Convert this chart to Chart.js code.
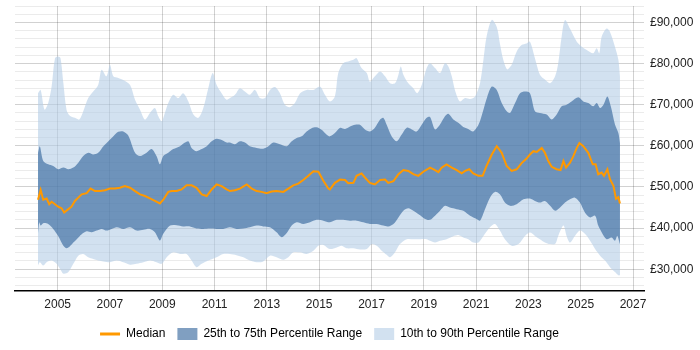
<!DOCTYPE html>
<html>
<head>
<meta charset="utf-8">
<script src="https://cdn.jsdelivr.net/npm/chart.js@4"></script>
<style>
  html, body { margin: 0; padding: 0; background: #fff; }
  #wrap { width: 700px; height: 350px; }
</style>
</head>
<body>
<div id="wrap"><canvas id="chartCanvas"></canvas></div>
<script>
// values in £ thousands, [decimal year, value]
const median = [
  [2004.25,46.9],[2004.35,49.3],[2004.45,46.9],[2004.58,47.2],[2004.68,45.8],[2004.77,46.4],[2004.90,45.8],[2005.02,45.2],[2005.15,44.8],[2005.25,43.8],[2005.41,44.6],[2005.53,45.2],[2005.66,46.6],[2005.79,47.4],[2005.92,48.2],[2006.11,48.5],[2006.26,49.6],[2006.43,49.0],[2006.62,49.0],[2006.81,49.2],[2007.00,49.6],[2007.19,49.6],[2007.38,49.8],[2007.57,50.2],[2007.77,49.8],
  [2007.96,49.0],[2008.15,48.2],[2008.34,47.8],[2008.53,47.2],[2008.72,46.6],[2008.91,46.0],[2009.04,46.9],[2009.23,48.8],[2009.36,49.0],[2009.55,49.0],[2009.74,49.4],[2009.93,50.4],[2010.12,50.4],[2010.31,49.8],[2010.51,48.2],[2010.70,47.8],[2010.89,49.4],[2011.08,50.6],[2011.27,50.2],[2011.46,49.4],[2011.59,49.0],
  [2011.78,49.2],[2011.97,49.6],[2012.23,50.6],[2012.42,49.6],[2012.61,49.0],[2012.80,48.8],[2012.99,48.5],[2013.18,48.9],[2013.37,49.0],[2013.63,48.8],[2013.82,49.6],[2014.01,50.4],[2014.20,50.8],[2014.39,51.7],[2014.585,52.7],[2014.78,53.8],[2014.97,53.7],[2015.16,51.5],[2015.35,49.6],
  [2015.41,49.4],[2015.60,51.0],[2015.80,51.8],[2015.99,51.7],[2016.11,50.9],[2016.31,51.0],[2016.43,52.7],[2016.62,53.3],[2016.75,52.3],[2016.94,51.0],[2017.13,50.6],[2017.33,51.7],[2017.52,51.8],[2017.64,51.0],[2017.84,51.4],[2018.03,53.1],[2018.22,54.1],[2018.41,53.9],[2018.60,53.1],[2018.79,52.7],[2018.98,53.7],[2019.24,54.7],
  [2019.43,54.1],[2019.56,53.6],[2019.68,54.7],[2019.87,55.5],[2020.07,54.7],[2020.26,54.1],[2020.45,53.3],[2020.58,53.9],[2020.74,54.3],[2020.89,53.3],[2021.09,52.7],[2021.25,52.7],[2021.40,55.1],[2021.60,57.9],[2021.79,59.9],[2021.98,58.3],[2022.17,55.1],[2022.36,53.9],[2022.55,54.3],[2022.74,55.8],[2022.93,56.9],[2023.06,57.9],
  [2023.19,58.7],[2023.32,58.5],[2023.51,59.5],[2023.63,58.3],[2023.76,56.3],[2023.89,54.9],[2024.08,54.3],[2024.23,54.1],[2024.34,56.3],[2024.44,54.7],[2024.59,55.9],[2024.72,57.5],[2024.85,59.5],[2024.95,60.7],[2025.10,59.9],[2025.29,58.3],[2025.46,55.5],[2025.57,55.5],[2025.67,53.1],[2025.80,53.5],[2025.89,52.7],[2026.02,54.3],[2026.12,51.9],[2026.25,50.3],[2026.35,47.1],[2026.44,47.5],[2026.50,46.0]
];

const p75 = [
  [2004.25,58.3],[2004.32,59.9],[2004.45,56.3],[2004.64,55.5],[2004.83,55.1],[2005.02,54.3],[2005.22,54.7],[2005.41,54.3],[2005.60,54.7],[2005.79,55.9],[2005.98,57.5],[2006.17,58.3],[2006.36,57.9],[2006.55,58.3],[2006.75,59.9],[2006.94,61.1],[2007.13,62.3],[2007.32,63.4],[2007.51,63.5],[2007.70,62.5],
  [2007.96,58.3],[2008.15,57.5],[2008.40,58.3],[2008.59,59.2],[2008.78,57.5],[2008.91,55.5],[2009.04,57.5],[2009.23,58.3],[2009.42,59.2],[2009.68,59.9],[2009.87,60.8],[2010.00,61.1],[2010.12,59.5],[2010.31,58.7],[2010.51,59.2],[2010.70,59.9],[2010.89,61.1],[2011.08,61.7],[2011.27,61.4],[2011.46,60.8],
  [2011.59,60.8],[2011.78,60.4],[2011.97,61.1],[2012.16,60.8],[2012.35,59.9],[2012.61,59.5],[2012.86,59.3],[2013.06,59.9],[2013.25,60.8],[2013.50,60.4],[2013.76,59.9],[2013.95,61.1],[2014.14,61.9],[2014.33,62.3],[2014.52,63.5],[2014.71,64.3],[2014.90,64.5],[2015.09,63.9],[2015.29,62.7],[2015.41,62.3],
  [2015.60,63.1],[2015.80,64.4],[2015.99,64.1],[2016.18,64.7],[2016.37,65.1],[2016.56,65.1],[2016.75,64.0],[2016.94,63.5],[2017.13,64.4],[2017.33,66.4],[2017.45,66.8],[2017.58,65.1],[2017.77,62.3],[2017.96,61.1],[2018.15,62.7],[2018.35,64.4],[2018.54,64.0],[2018.73,63.5],[2018.92,65.1],[2019.11,66.8],[2019.24,67.0],
  [2019.43,64.0],[2019.62,65.2],[2019.81,67.2],[2019.94,67.8],[2020.13,66.4],[2020.32,65.6],[2020.51,64.6],[2020.70,64.1],[2020.89,63.5],[2021.09,65.1],[2021.28,68.8],[2021.43,72.0],[2021.60,74.4],[2021.79,73.6],[2021.98,70.4],[2022.17,68.4],[2022.30,68.0],[2022.49,70.4],[2022.68,72.8],[2022.87,73.2],[2023.06,72.8],
  [2023.25,68.4],[2023.44,68.0],[2023.70,67.6],[2023.89,66.4],[2024.08,67.6],[2024.27,69.6],[2024.46,70.0],[2024.65,70.8],[2024.91,71.8],[2025.10,70.8],[2025.29,70.4],[2025.48,69.6],[2025.61,70.4],[2025.74,69.2],[2025.87,70.0],[2026.02,72.0],[2026.15,69.6],[2026.31,65.2],[2026.44,63.1],[2026.50,60.7]
];

const p25 = [
  [2004.25,38.6],[2004.30,41.4],[2004.35,40.6],[2004.45,41.2],[2004.64,41.0],[2004.83,39.8],[2005.02,38.1],[2005.22,35.7],[2005.34,35.1],[2005.47,35.6],[2005.60,36.5],[2005.73,37.3],[2005.92,38.5],[2006.11,39.2],[2006.30,39.0],[2006.49,39.4],[2006.68,39.8],[2006.87,39.4],[2007.06,39.8],[2007.26,40.2],[2007.51,39.8],[2007.77,40.2],
  [2008.02,39.4],[2008.28,39.6],[2008.53,39.8],[2008.72,39.0],[2008.91,37.0],[2009.04,38.6],[2009.30,40.6],[2009.55,40.7],[2009.80,40.4],[2010.06,40.4],[2010.31,39.9],[2010.57,39.8],[2010.82,39.9],[2011.08,39.8],[2011.33,39.8],[2011.59,40.2],
  [2011.84,39.8],[2012.10,39.9],[2012.35,40.2],[2012.61,40.6],[2012.86,40.4],[2013.12,40.2],[2013.37,39.0],[2013.57,37.8],[2013.76,38.8],[2013.95,40.6],[2014.14,41.4],[2014.39,41.0],[2014.65,41.4],[2014.90,42.0],[2015.16,41.8],[2015.41,41.4],
  [2015.67,42.0],[2015.92,42.0],[2016.18,41.8],[2016.43,41.8],[2016.69,41.4],[2016.94,41.0],[2017.20,41.0],[2017.45,40.6],[2017.64,40.4],[2017.84,41.0],[2018.03,42.6],[2018.22,44.2],[2018.41,44.8],[2018.60,44.2],[2018.86,43.1],[2019.05,42.2],[2019.24,42.0],
  [2019.43,43.0],[2019.62,44.2],[2019.81,45.4],[2020.00,45.0],[2020.26,44.6],[2020.51,44.2],[2020.77,43.0],[2021.02,42.2],[2021.15,41.8],[2021.34,44.6],[2021.53,47.4],[2021.72,48.8],[2021.91,48.2],[2022.10,46.2],[2022.30,45.4],[2022.55,45.8],[2022.81,47.0],[2023.06,47.2],
  [2023.25,46.6],[2023.44,46.2],[2023.63,46.6],[2023.83,45.4],[2024.02,44.2],[2024.21,45.0],[2024.40,46.2],[2024.59,47.0],[2024.78,47.4],[2024.97,46.2],[2025.16,43.8],[2025.36,42.6],[2025.55,43.0],[2025.67,40.6],[2025.80,39.0],[2025.99,37.3],[2026.18,37.7],[2026.31,36.9],[2026.40,38.1],[2026.50,36.1]
];

const p90 = [
  [2004.25,72.8],[2004.35,73.6],[2004.50,68.8],[2004.64,70.4],[2004.77,74.4],[2004.90,81.3],[2005.02,81.7],[2005.11,81.3],[2005.22,75.2],[2005.34,68.8],[2005.47,67.3],[2005.66,66.8],[2005.83,66.4],[2005.98,68.4],[2006.17,71.6],[2006.36,73.2],[2006.55,74.8],[2006.68,78.5],[2006.87,76.9],[2007.00,79.7],[2007.13,76.9],[2007.32,76.5],[2007.51,76.0],[2007.77,74.8],
  [2007.96,71.2],[2008.15,68.8],[2008.34,66.4],[2008.53,68.0],[2008.72,69.2],[2008.85,67.2],[2008.98,66.0],[2009.10,68.0],[2009.23,70.4],[2009.42,72.4],[2009.61,71.6],[2009.80,72.8],[2010.00,70.8],[2010.19,67.6],[2010.38,66.8],[2010.57,69.2],[2010.76,74.0],[2010.93,77.7],[2011.08,74.8],[2011.27,72.8],[2011.46,71.2],
  [2011.59,71.6],[2011.78,72.4],[2011.97,74.0],[2012.16,73.2],[2012.35,72.4],[2012.545,73.6],[2012.74,71.6],[2012.93,71.6],[2013.12,73.6],[2013.31,74.3],[2013.50,72.8],[2013.69,70.0],[2013.88,69.4],[2014.07,70.4],[2014.27,72.8],[2014.52,73.6],[2014.78,73.6],[2015.03,74.4],[2015.22,72.4],[2015.41,70.8],
  [2015.60,72.0],[2015.73,77.7],[2015.92,80.1],[2016.11,80.5],[2016.31,80.9],[2016.43,81.3],[2016.62,78.9],[2016.82,77.7],[2016.94,75.6],[2017.13,76.9],[2017.33,78.1],[2017.52,76.9],[2017.71,75.2],[2017.90,75.2],[2018.03,77.3],[2018.12,79.3],[2018.22,77.3],[2018.41,75.2],[2018.60,74.0],[2018.75,72.8],[2018.92,74.8],[2019.11,78.9],[2019.24,80.1],
  [2019.43,78.9],[2019.62,77.7],[2019.81,80.1],[2019.94,79.3],[2020.07,76.9],[2020.19,73.6],[2020.38,70.8],[2020.58,71.6],[2020.77,71.4],[2020.96,72.0],[2021.15,75.2],[2021.28,80.9],[2021.40,86.5],[2021.60,90.6],[2021.79,88.9],[2021.91,84.9],[2022.04,80.9],[2022.19,78.6],[2022.36,79.7],[2022.55,82.9],[2022.74,84.5],[2022.93,84.9],[2023.06,85.3],
  [2023.25,81.3],[2023.44,77.3],[2023.63,76.1],[2023.83,75.2],[2024.02,76.9],[2024.14,80.1],[2024.27,86.5],[2024.40,90.6],[2024.59,88.5],[2024.85,85.3],[2025.04,84.1],[2025.23,83.3],[2025.48,82.5],[2025.61,83.7],[2025.71,82.5],[2025.80,86.5],[2025.99,88.5],[2026.12,87.7],[2026.31,84.1],[2026.44,80.9],[2026.50,76.9]
];

const p10 = [
  [2004.25,30.9],[2004.32,31.7],[2004.45,30.9],[2004.58,31.7],[2004.77,32.1],[2004.96,31.3],[2005.09,30.1],[2005.22,28.9],[2005.41,29.3],[2005.60,31.3],[2005.79,33.3],[2005.98,33.7],[2006.17,32.9],[2006.36,32.5],[2006.55,32.1],[2006.75,31.9],[2007.00,31.7],[2007.26,32.1],[2007.51,31.7],[2007.77,31.1],
  [2008.02,31.3],[2008.28,31.7],[2008.53,32.1],[2008.78,31.7],[2008.98,31.3],[2009.17,32.9],[2009.42,34.1],[2009.68,33.7],[2009.93,33.7],[2010.12,32.1],[2010.31,30.5],[2010.51,31.3],[2010.76,32.1],[2011.08,32.9],[2011.33,33.7],[2011.59,33.7],
  [2011.84,33.4],[2012.10,32.9],[2012.35,32.1],[2012.61,31.7],[2012.86,31.9],[2013.12,33.3],[2013.37,32.9],[2013.63,32.3],[2013.82,32.9],[2014.01,34.1],[2014.27,34.1],[2014.52,33.7],[2014.78,34.5],[2014.97,35.7],[2015.16,35.9],[2015.41,34.9],
  [2015.67,35.3],[2015.86,35.7],[2016.05,35.1],[2016.31,35.1],[2016.56,34.8],[2016.82,34.9],[2017.01,36.1],[2017.20,35.7],[2017.39,34.5],[2017.58,33.5],[2017.71,32.9],[2017.90,34.1],[2018.09,36.1],[2018.35,37.3],[2018.60,37.3],[2018.86,37.3],[2019.11,37.3],[2019.24,36.9],
  [2019.43,36.5],[2019.62,36.9],[2019.87,37.3],[2020.13,38.0],[2020.32,38.3],[2020.51,37.7],[2020.70,37.3],[2020.89,36.5],[2021.09,36.5],[2021.28,38.1],[2021.53,40.2],[2021.72,41.0],[2021.91,39.4],[2022.10,37.3],[2022.36,35.7],[2022.62,36.1],[2022.87,38.1],[2023.06,38.9],
  [2023.25,38.1],[2023.44,37.3],[2023.63,36.5],[2023.83,36.1],[2024.02,36.1],[2024.14,38.1],[2024.34,40.6],[2024.46,38.1],[2024.59,36.5],[2024.78,38.1],[2024.97,39.4],[2025.16,38.6],[2025.36,36.9],[2025.55,34.9],[2025.74,33.3],[2025.93,32.1],[2026.12,30.5],[2026.31,29.3],[2026.44,28.5],[2026.50,28.5]
];

const yearTicks = [2005, 2007, 2009, 2011, 2013, 2015, 2017, 2019, 2021, 2023, 2025, 2027];
const seriesLabels = ['Median', '25th to 75th Percentile Range', '10th to 90th Percentile Range'];

function toPoints(arr) {
  return arr.map(p => ({ x: p[0], y: p[1] * 1000 }));
}

function money(v) {
  return '£' + String(v).replace(/\B(?=(\d{3})+(?!\d))/g, ',');
}

Chart.defaults.font.family = "'Liberation Sans', Arial, sans-serif";
Chart.defaults.font.size = 12;
Chart.defaults.color = '#333';

const darkFill = 'rgba(43,95,152,0.6)';
const lightFill = 'rgba(180,205,230,0.6)';
const band = { pointRadius: 0, borderWidth: 0, tension: 0.3 };

const ctx = document.getElementById('chartCanvas').getContext('2d');
const chart = new Chart(ctx, {
  type: 'line',
  data: {
    datasets: [
      { label: seriesLabels[0], data: toPoints(median), borderColor: '#ff9900', backgroundColor: '#ff9900',
        borderWidth: 2, pointRadius: 0, fill: false, tension: 0 },
      Object.assign({ label: seriesLabels[1], data: toPoints(p75), fill: 2,
        backgroundColor: darkFill, borderColor: 'rgba(0,0,0,0)' }, band),
      Object.assign({ label: 'p25', data: toPoints(p25), fill: false, borderColor: 'rgba(0,0,0,0)' }, band),
      Object.assign({ label: seriesLabels[2], data: toPoints(p90), fill: 4,
        backgroundColor: lightFill, borderColor: 'rgba(0,0,0,0)' }, band),
      Object.assign({ label: 'p10', data: toPoints(p10), fill: false, borderColor: 'rgba(0,0,0,0)' }, band)
    ]
  },
  options: {
    responsive: true,
    maintainAspectRatio: false,
    animation: false,
    layout: { padding: { left: 15, top: 6, right: 0, bottom: 0 } },
    plugins: {
      tooltip: { enabled: false },
      legend: {
        position: 'bottom',
        fullSize: false,
        labels: {
          usePointStyle: true,
          pointStyleWidth: 20,
          boxHeight: 12,
          padding: 12,
          color: '#222',
          filter: item => seriesLabels.includes(item.text),
          generateLabels: c => c.data.datasets.map((ds, i) => ({
            text: ds.label,
            datasetIndex: i,
            fillStyle: i === 1 ? darkFill : (i === 3 ? lightFill : '#ff9900'),
            strokeStyle: '#ff9900',
            lineWidth: i === 0 ? 3 : 0,
            pointStyle: i === 0 ? 'line' : 'rect',
            hidden: false
          }))
        }
      }
    },
    scales: {
      x: {
        type: 'linear',
        min: 2003.37,
        max: 2027.42,
        afterBuildTicks: s => { s.ticks = yearTicks.map(v => ({ value: v })); },
        afterFit: s => { s.height = 25; },
        ticks: { callback: v => String(v), padding: 6, color: '#222', maxRotation: 0 },
        grid: { color: 'rgba(0,0,0,0.18)', drawTicks: false },
        border: { color: '#000', width: 1.5 }
      },
      y: {
        position: 'right',
        min: 24700,
        max: 94000,
        afterBuildTicks: s => {
          const t = [];
          for (let v = 26000; v <= 94000; v += 2000) t.push({ value: v });
          s.ticks = t;
        },
        afterFit: s => { s.width = 56; s.paddingTop = 0; s.paddingBottom = 0; },
        ticks: {
          padding: 6,
          color: '#222',
          autoSkip: false,
          callback: v => (v % 10000 === 0 ? money(v) : '')
        },
        grid: {
          drawTicks: false,
          color: c => (c.tick && c.tick.value % 10000 === 0 ? 'rgba(0,0,0,0.18)' : 'rgba(0,0,0,0.08)')
        },
        border: { display: false }
      }
    }
  }
});
</script>
</body>
</html>
